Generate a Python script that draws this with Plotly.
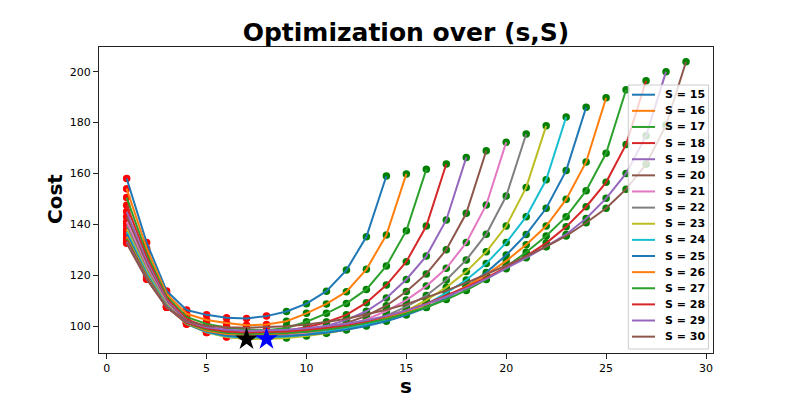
import plotly.graph_objects as go

# ---------------- data ----------------
S_values = list(range(15, 31))

cost_S15 = [158.0, 132.8, 113.8, 106.3, 104.4, 103.3, 103.0, 103.9, 105.7, 108.8, 113.7, 122.0, 135.1, 159.0]
cost_S16 = [154.0, 130.5, 112.6, 104.8, 102.4, 101.2, 100.3, 100.6, 101.9, 105.0, 108.7, 113.5, 122.3, 135.8, 159.8]
cost_S17 = [150.5, 128.5, 111.6, 103.6, 100.8, 99.4, 98.6, 98.3, 99.2, 101.7, 105.0, 108.9, 114.4, 123.6, 137.5, 161.6]
cost_S18 = [147.5, 127.0, 110.8, 102.7, 99.6, 98.0, 97.2, 97.4, 98.2, 99.5, 101.5, 104.4, 109.2, 116.1, 125.3, 139.3, 163.7]
cost_S19 = [145.0, 125.5, 110.1, 102.0, 99.0, 97.3, 96.7, 96.9, 97.4, 98.4, 100.0, 102.4, 105.8, 111.0, 118.3, 127.5, 141.7, 166.3]
cost_S20 = [143.0, 124.3, 109.5, 101.5, 98.3, 96.8, 96.3, 96.5, 97.0, 97.8, 99.2, 101.2, 104.0, 108.0, 113.6, 120.5, 130.0, 144.3, 168.9]
cost_S21 = [141.0, 123.2, 109.0, 101.1, 97.8, 96.3, 95.8, 95.9, 96.3, 97.1, 98.3, 100.1, 102.6, 105.9, 110.2, 115.7, 122.7, 132.8, 147.6, 172.3]
cost_S22 = [139.5, 122.3, 108.6, 100.9, 97.5, 95.8, 94.8, 95.2, 95.8, 96.7, 97.9, 99.5, 101.5, 104.1, 107.6, 112.0, 118.1, 126.0, 136.1, 151.1, 175.5]
cost_S23 = [138.0, 121.5, 108.3, 100.8, 97.5, 95.7, 95.0, 94.9, 95.3, 96.1, 97.2, 98.5, 100.4, 102.8, 106.0, 110.2, 115.2, 121.4, 129.2, 139.3, 154.5, 178.7]
cost_S24 = [137.0, 120.8, 108.0, 100.8, 97.6, 96.0, 95.4, 95.5, 95.9, 96.6, 97.6, 98.9, 100.5, 102.5, 105.1, 108.5, 113.0, 118.1, 124.6, 132.8, 143.0, 157.5, 182.2]
cost_S25 = [136.0, 120.2, 107.8, 100.9, 97.8, 96.2, 95.7, 95.8, 96.1, 96.6, 97.4, 98.5, 100.0, 101.9, 104.3, 107.3, 111.0, 115.5, 121.0, 127.9, 136.0, 146.3, 161.1, 186.0]
cost_S26 = [135.0, 119.7, 107.6, 101.0, 98.1, 96.9, 96.6, 96.8, 97.2, 97.8, 98.7, 99.9, 101.4, 103.3, 105.6, 108.4, 111.7, 115.6, 120.2, 125.6, 132.0, 139.3, 149.8, 164.5, 189.7]
cost_S27 = [134.3, 119.3, 107.5, 101.2, 98.6, 97.3, 96.9, 97.0, 97.3, 97.8, 98.6, 99.7, 101.1, 102.8, 104.9, 107.4, 110.4, 114.0, 118.3, 123.3, 129.0, 135.4, 143.0, 153.2, 167.9, 192.9]
cost_S28 = [133.6, 118.9, 107.4, 101.4, 99.0, 97.9, 97.5, 97.6, 97.9, 98.5, 99.3, 100.4, 101.9, 103.8, 106.1, 108.8, 111.9, 115.3, 119.0, 123.0, 127.5, 132.6, 139.0, 146.9, 156.5, 171.4, 196.4]
cost_S29 = [133.0, 118.6, 107.4, 101.7, 99.5, 98.5, 98.1, 98.2, 98.5, 99.1, 99.9, 100.9, 102.3, 104.0, 106.1, 108.6, 111.5, 114.8, 118.5, 122.5, 126.8, 131.3, 136.0, 142.3, 150.2, 160.0, 174.8, 200.0]
cost_S30 = [132.5, 118.4, 107.4, 102.0, 100.0, 99.5, 99.3, 99.5, 99.9, 100.6, 101.6, 102.9, 104.5, 106.4, 108.6, 111.1, 113.9, 117.0, 120.3, 123.8, 127.5, 131.2, 135.4, 140.6, 146.3, 153.8, 163.6, 179.0, 203.9]

cost_by_S = {
    15: cost_S15, 16: cost_S16, 17: cost_S17, 18: cost_S18, 19: cost_S19, 20: cost_S20,
    21: cost_S21, 22: cost_S22, 23: cost_S23, 24: cost_S24, 25: cost_S25, 26: cost_S26,
    27: cost_S27, 28: cost_S28, 29: cost_S29, 30: cost_S30,
}

red_up_to_s = 8                 # dots at s <= 8 are red, later ones green
black_star = (7, 22)            # (s, S)
blue_star = (8, 23)             # (s, S)

x_ticks = [0, 5, 10, 15, 20, 25, 30]
y_ticks = [100, 120, 140, 160, 180, 200]

# ---------------- styling ----------------
TAB10 = ['#1f77b4', '#ff7f0e', '#2ca02c', '#d62728', '#9467bd',
         '#8c564b', '#e377c2', '#7f7f7f', '#bcbd22', '#17becf']
FONT = 'DejaVu Sans'
W, H = 793, 397
L, R, T, B = 99, 713, 47, 353   # plot area in pixels


def px(x):
    return (x - L) / (R - L)


def py(y):
    return (B - y) / (B - T)


fig = go.Figure()

# dots first (underneath), then all lines on top
for i, S in enumerate(S_values):
    c = cost_by_S[S]
    s = list(range(1, len(c) + 1))
    dot_colors = ['#ff0000' if v <= red_up_to_s else '#008000' for v in s]
    fig.add_trace(go.Scatter(x=s, y=c, mode='markers',
                             marker=dict(color=dot_colors, size=7.5, line=dict(width=0)),
                             showlegend=False, hoverinfo='skip'))
for i, S in enumerate(S_values):
    c = cost_by_S[S]
    s = list(range(1, len(c) + 1))
    fig.add_trace(go.Scatter(x=s, y=c, mode='lines', name=f'S = {S}',
                             line=dict(color=TAB10[i % 10], width=2),
                             showlegend=False))

for (sv, Sv), col in [(black_star, '#000000'), (blue_star, '#0000ff')]:
    fig.add_trace(go.Scatter(x=[sv], y=[cost_by_S[Sv][sv - 1]], mode='markers',
                             marker=dict(symbol='star', size=17, color=col, line=dict(width=0)),
                             showlegend=False))

# ---------------- manual legend ----------------
shapes = []
annotations = []
shapes.append(dict(type='rect', xref='paper', yref='paper',
                   x0=px(628.3), x1=px(708.5), y0=py(349), y1=py(85),
                   fillcolor='rgba(255,255,255,0.8)', line=dict(color='#cccccc', width=1),
                   layer='above'))
for i, S in enumerate(S_values):
    yy = 94.7 + 16.13 * i
    shapes.append(dict(type='line', xref='paper', yref='paper',
                       x0=px(632), x1=px(655), y0=py(yy), y1=py(yy),
                       line=dict(color=TAB10[i % 10], width=2), layer='above'))
    annotations.append(dict(text=f'S = {S}', xref='paper', yref='paper',
                            x=px(663), y=py(yy), xanchor='left', yanchor='middle',
                            showarrow=False,
                            font=dict(family=FONT, size=11, color='black', weight='bold')))

# axis titles
annotations.append(dict(text='s', xref='paper', yref='paper', x=px(406), y=py(385.5),
                        xanchor='center', yanchor='middle', showarrow=False, borderpad=0,
                        font=dict(family=FONT, size=20, color='black', weight='bold')))
annotations.append(dict(text='Cost', xref='paper', yref='paper', x=px(55), y=py(199),
                        xanchor='center', yanchor='middle', showarrow=False, textangle=-90,
                        font=dict(family=FONT, size=20, color='black', weight='bold')))

axis_common = dict(showgrid=False, zeroline=False, showline=True, mirror=True,
                   linecolor='#222222', linewidth=1, ticks='outside', ticklen=5,
                   tickcolor='#222222', tickwidth=1,
                   tickfont=dict(family=FONT, size=11, color='black'))

fig.update_layout(
    width=W, height=H,
    margin=dict(l=L, r=W - R, t=T, b=H - B),
    paper_bgcolor='white', plot_bgcolor='white',
    title=dict(text='Optimization over (s,S)', xref='paper', x=0.5, xanchor='center',
               yref='container', y=1 - 32 / H, yanchor='middle',
               font=dict(family=FONT, size=25, color='black', weight='bold')),
    xaxis=dict(range=[-0.385, 30.35], tickvals=x_ticks, **axis_common),
    yaxis=dict(range=[89.4, 209.7], tickvals=y_ticks, **axis_common),
    shapes=shapes, annotations=annotations,
    showlegend=False,
)

fig.write_html('out.html', config={'displayModeBar': False},
               post_script="document.body.style.margin='0';document.body.style.overflow='hidden';")
